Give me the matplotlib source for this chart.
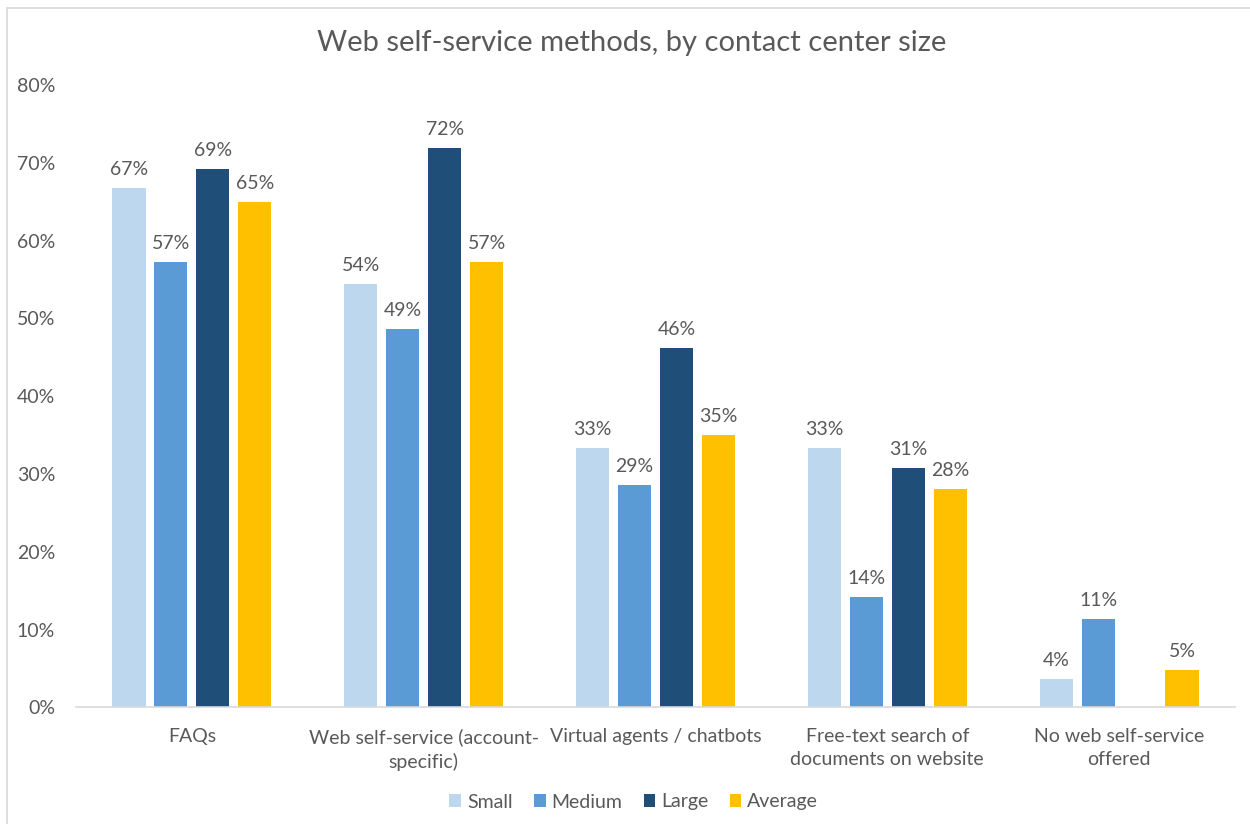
import numpy as np
import matplotlib
matplotlib.use('Agg')
import matplotlib.pyplot as plt
from matplotlib.patches import Rectangle

plt.rcParams['font.family'] = ['Lato', 'DejaVu Sans']

categories = ['FAQs', 'Web self-service (account-\nspecific)', 'Virtual agents / chatbots',
              'Free-text search of\ndocuments on website', 'No web self-service\noffered']
series = ['Small', 'Medium', 'Large', 'Average']
small = [66.7, 54.4, 33.3, 33.3, 3.6]
medium = [57.2, 48.6, 28.6, 14.2, 11.4]
large = [69.2, 71.9, 46.2, 30.7, 0]
average = [65.0, 57.2, 35.0, 28.0, 4.8]
colors = ['#BDD7EE', '#5B9BD5', '#1F4E79', '#FFC000']
yticks = [0, 10, 20, 30, 40, 50, 60, 70, 80]

txt = '#595959'
fig = plt.figure(figsize=(12.5, 8.24), dpi=100)
ax = fig.add_axes([76/1250, 1 - 707.3/824, (1235 - 76)/1250, (707.3 - 85)/824])

x = np.arange(len(categories))
step = 0.181
width = 0.143
for i, (name, vals) in enumerate(zip(series, [small, medium, large, average])):
    pos = x + (i - 1.5) * step
    for p, v in zip(pos, vals):
        if v <= 0:
            continue
        ax.bar(p, v, width, color=colors[i], linewidth=0)
        ax.text(p, v + 1.3, f'{v:.0f}%', ha='center', va='bottom', fontsize=14, color=txt)
    ax.bar(0, 0, 0, color=colors[i], label=name)

ax.set_xlim(-0.5, len(categories) - 0.5)
ax.set_ylim(0, 80)
ax.set_yticks(yticks)
ax.set_yticklabels([f'{t}%' for t in yticks])
ax.set_xticks(x)
ax.set_xticklabels(categories, linespacing=1.45)
ax.tick_params(axis='both', length=0, labelsize=14, colors=txt)
ax.tick_params(axis='y', pad=15)
ax.tick_params(axis='x', pad=15)
for side in ['top', 'right', 'left']:
    ax.spines[side].set_visible(False)
ax.spines['bottom'].set_color('#D9D9D9')
ax.spines['bottom'].set_linewidth(1.2)

fig.text(0.505, 1 - 43/824, 'Web self-service methods, by contact center size',
         ha='center', va='center', fontsize=21, color=txt)

fig.legend(loc='center', bbox_to_anchor=(0.507, 1 - 802/824), ncol=4, frameon=False,
           fontsize=14, handlelength=0.6, handleheight=0.6, handletextpad=0.3,
           columnspacing=1.1, labelcolor=txt)

fig.patches.append(Rectangle((7/1250, -0.01), 1.1, (824 - 8)/824 + 0.01,
                             transform=fig.transFigure, fill=False,
                             edgecolor='#D9D9D9', linewidth=1.2))

fig.savefig('out.png', dpi=100, facecolor='white')
